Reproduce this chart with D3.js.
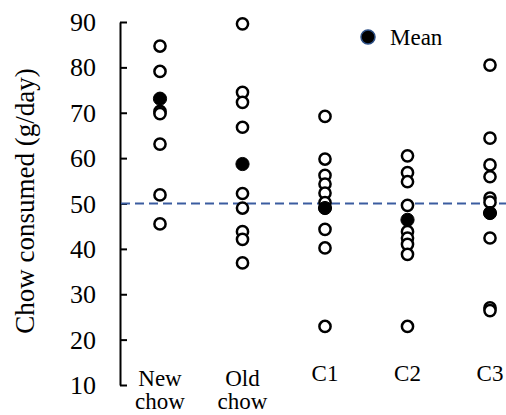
<!DOCTYPE html>
<html>
<head>
<meta charset="utf-8">
<script src="https://cdn.jsdelivr.net/npm/d3@7"></script>
<style>
  html, body { margin: 0; padding: 0; background: #fff; }
  svg { display: block; font-family: "Liberation Serif", "Times New Roman", serif; }
  .open { fill: #fff; stroke: #000; stroke-width: 2.5; }
  .mean { fill: #000; stroke: #000; stroke-width: 1; }
</style>
</head>
<body>
<svg id="chart" width="506" height="415"></svg>
<script>
(function() {

// groups along the x axis
const categories = ['New chow', 'Old chow', 'C1', 'C2', 'C3'];
const categoryLines = [['New', 'chow'], ['Old', 'chow'], ['C1'], ['C2'], ['C3']];

// individual values (g/day)
const newChow = [84.7, 79.1, 70.3, 69.8, 63.1, 51.9, 45.5];
const oldChow = [89.6, 74.5, 72.3, 66.8, 52.2, 49.0, 43.8, 42.1, 36.9];
const c1 = [69.2, 59.8, 56.2, 54.3, 52.3, 50.2, 44.3, 40.2, 22.9];
const c2 = [60.5, 56.8, 54.8, 49.6, 43.8, 42.4, 41.0, 38.8, 22.9];
const c3 = [80.5, 64.4, 58.5, 55.9, 51.2, 50.3, 42.4, 27.0, 26.4];

// group means
const means = [73.1, 58.7, 49.0, 46.4, 47.9];

const yTicks = [10, 20, 30, 40, 50, 60, 70, 80, 90];
const referenceLine = 50;

const groups = [newChow, oldChow, c1, c2, c3];

const svg = d3.select('#chart');

const x = d3.scalePoint()
    .domain(categories)
    .range([160, 490]);

const y = d3.scaleLinear()
    .domain([10, 90])
    .range([385, 22]);

const axisX = 120;

// y axis, ticks pointing inward
const yAxis = svg.append('g')
    .attr('transform', 'translate(' + axisX + ',0)')
    .call(d3.axisRight(y).tickValues(yTicks).tickSize(7).tickSizeOuter(0).tickFormat(''));
yAxis.select('.domain').attr('stroke', '#000').attr('stroke-width', 2);
yAxis.selectAll('.tick line').attr('stroke', '#000').attr('stroke-width', 2);

// tick labels on the outside
svg.append('g')
    .selectAll('text')
    .data(yTicks)
  .enter().append('text')
    .attr('x', 96)
    .attr('y', function(d) { return y(d); })
    .attr('dy', '0.35em')
    .attr('text-anchor', 'end')
    .attr('font-size', 26)
    .text(function(d) { return d; });

// y title
svg.append('text')
    .attr('transform', 'translate(34,' + 201 + ') rotate(-90)')
    .attr('text-anchor', 'middle')
    .attr('font-size', 27)
    .text('Chow consumed (g/day)');

// dashed reference line
svg.append('line')
    .attr('x1', axisX + 1)
    .attr('x2', 506)
    .attr('y1', y(referenceLine))
    .attr('y2', y(referenceLine))
    .attr('stroke', '#3b5ca0')
    .attr('stroke-width', 2)
    .attr('stroke-dasharray', '9,5');

// x category labels
const xLabels = svg.append('g')
    .selectAll('text')
    .data(categories)
  .enter().append('text')
    .attr('x', function(d) { return x(d); })
    .attr('y', function(d, i) { return categoryLines[i].length > 1 ? 386 : 381; })
    .attr('text-anchor', 'middle')
    .attr('font-size', 23);

xLabels.selectAll('tspan')
    .data(function(d, i) { return categoryLines[i]; })
  .enter().append('tspan')
    .attr('x', function() { return +d3.select(this.parentNode).attr('x'); })
    .attr('dy', function(d, i) { return i === 0 ? 0 : 23; })
    .text(function(d) { return d; });

// individual points
const points = [];
groups.forEach(function(vals, i) {
    vals.forEach(function(v) { points.push({ cat: categories[i], value: v }); });
});

svg.append('g')
    .selectAll('circle')
    .data(points)
  .enter().append('circle')
    .attr('class', 'open')
    .attr('cx', function(d) { return x(d.cat); })
    .attr('cy', function(d) { return y(d.value); })
    .attr('r', 5.6);

// means
svg.append('g')
    .selectAll('circle')
    .data(means)
  .enter().append('circle')
    .attr('class', 'mean')
    .attr('cx', function(d, i) { return x(categories[i]); })
    .attr('cy', function(d) { return y(d); })
    .attr('r', 6.6);

// legend
const legend = svg.append('g').attr('transform', 'translate(368,37)');
legend.append('circle')
    .attr('r', 7)
    .attr('fill', '#000')
    .attr('stroke', '#2c4f86')
    .attr('stroke-width', 1.5);
legend.append('text')
    .attr('x', 22)
    .attr('y', 8)
    .attr('font-size', 23)
    .text('Mean');

})();
</script>
</body>
</html>
